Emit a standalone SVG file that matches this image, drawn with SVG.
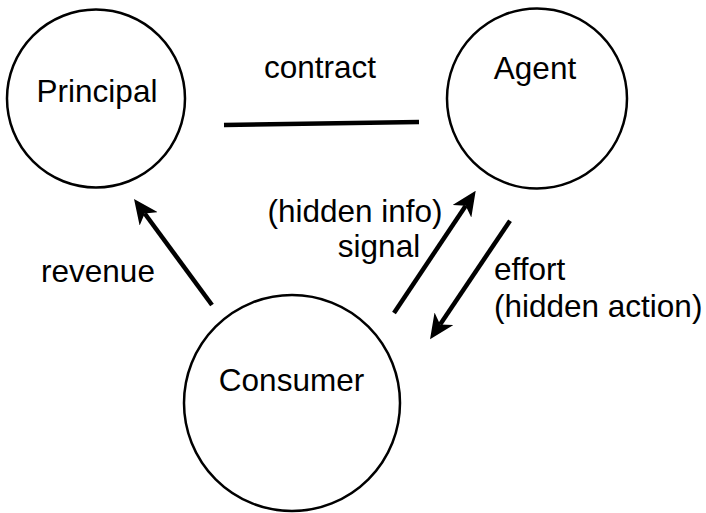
<svg xmlns="http://www.w3.org/2000/svg" width="706" height="513" viewBox="0 0 706 513">
<style>
.node{fill:#fff;stroke:#000;stroke-width:2.5}
.lbl{font-family:"Liberation Sans",Arial,sans-serif;font-size:31.5px;fill:#000}
.mid{text-anchor:middle}
.edge{stroke:#000;stroke-width:4.5;fill:none}
</style>
<defs>
<marker id="arr" viewBox="0 0 11 10" markerWidth="5.5" markerHeight="5" refX="3" refY="5" orient="auto">
<path d="M0,0 L11,5 L0,10 L3,5 z" fill="#000"/>
</marker>
</defs>
<rect width="706" height="513" fill="#fff"/>
<g id="principal">
<circle class="node" cx="96" cy="98.5" r="89"/>
<text class="lbl mid" x="97" y="102">Principal</text>
</g>
<g id="agent">
<circle class="node" cx="537" cy="98.5" r="90"/>
<text class="lbl mid" x="535" y="79">Agent</text>
</g>
<g id="consumer">
<circle class="node" cx="292" cy="403" r="108"/>
<text class="lbl mid" x="291.5" y="391">Consumer</text>
</g>
<g id="connectors">
<line class="edge" x1="224" y1="125" x2="419" y2="122"/>
<line class="edge" x1="212" y1="305" x2="144.7" y2="213.5" marker-end="url(#arr)"/>
<line class="edge" x1="394" y1="313" x2="465.7" y2="205.7" marker-end="url(#arr)"/>
<line class="edge" x1="510" y1="220.7" x2="440.1" y2="324.4" marker-end="url(#arr)"/>
</g>
<g id="labels">
<text class="lbl mid" x="320" y="78">contract</text>
<text class="lbl mid" x="98" y="282">revenue</text>
<text class="lbl mid" x="355" y="222">(hidden info)</text>
<text class="lbl mid" x="379" y="257">signal</text>
<text class="lbl" x="494" y="280">effort</text>
<text class="lbl" x="494" y="317">(hidden action)</text>
</g>
</svg>
